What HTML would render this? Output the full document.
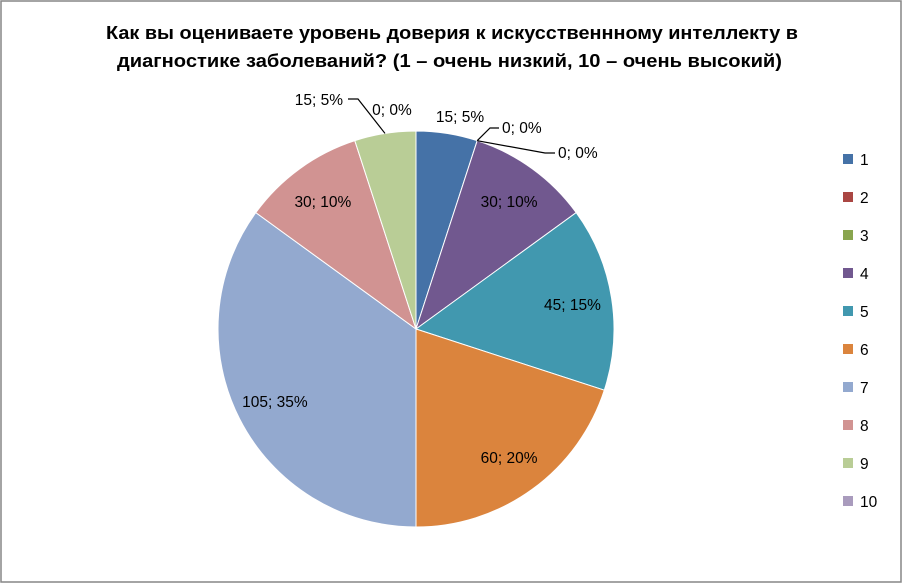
<!DOCTYPE html>
<html><head><meta charset="utf-8"><style>
body{margin:0;background:#fff;}
#wrap{position:relative;width:902px;height:583px;font-family:"Liberation Sans",sans-serif;}
svg text{font-family:"Liberation Sans","DejaVu Sans",sans-serif;}
</style></head><body>
<div id="wrap">
<svg id="chart" width="902" height="583">
<rect x="1" y="1" width="900" height="581" fill="#fff" stroke="#868686" stroke-width="1.5"/>
<text x="106" y="39" textLength="692" lengthAdjust="spacingAndGlyphs" font-size="18.5" font-weight="bold" fill="#000">Как вы оцениваете уровень доверия к искусственнному интеллекту в</text>
<text x="117" y="67" textLength="665" lengthAdjust="spacingAndGlyphs" font-size="18.5" font-weight="bold" fill="#000">диагностике заболеваний? (1 – очень низкий, 10 – очень высокий)</text>
<g id="slices"></g>
<g id="labels"></g>
<g id="legend"></g>
</svg>
</div>
<script>
const categories=["1","2","3","4","5","6","7","8","9","10"];
const values=[15,0,0,30,45,60,105,30,15,0];
const percents=["5%","0%","0%","10%","15%","20%","35%","10%","5%","0%"];
const colors=["#4572A7","#AA4643","#89A54E","#71588F","#4198AF","#DB843D","#93A9CF","#D19392","#B9CD96","#A99BBD"];
const NS="http://www.w3.org/2000/svg";
const cx=416,cy=329,r=198;
const total=values.reduce((a,b)=>a+b,0);
function pt(a,rr){return [cx+rr*Math.sin(a),cy-rr*Math.cos(a)];}
const sg=document.getElementById('slices'),lg=document.getElementById('labels'),gg=document.getElementById('legend');
let ang=0;
const labelOverride={0:[460,122,'middle'],1:[502,133,'start'],2:[558,158,'start'],9:[392,115,'middle'],8:[343,105,'end']};
values.forEach((v,i)=>{
  const a0=ang,a1=ang+v/total*2*Math.PI;ang=a1;
  if(v>0){
    const p0=pt(a0,r),p1=pt(a1,r);
    const large=(a1-a0)>Math.PI?1:0;
    const p=document.createElementNS(NS,'path');
    p.setAttribute('d',`M${cx},${cy}L${p0[0]},${p0[1]}A${r},${r} 0 ${large} 1 ${p1[0]},${p1[1]}Z`);
    p.setAttribute('fill',colors[i]);p.setAttribute('stroke','#fff');p.setAttribute('stroke-width','1');
    
    
    sg.appendChild(p);
  }
  const mid=(a0+a1)/2;
  let x,y,anchor='middle';
  if(labelOverride[i]){[x,y,anchor]=labelOverride[i];}
  else{const q=pt(mid,r*0.8);x=q[0];y=q[1]+6;}
  let pts=null;
  const e=pt(a0,r);
  if(i===1) pts=`${e[0]},${e[1]} ${x-12},${y-5} ${x-3},${y-5}`;
  else if(i===2) pts=`${e[0]},${e[1]} ${x-13},${y-5} ${x-3},${y-5}`;
  else if(i===8){const m=pt(mid,r);pts=`${m[0]},${m[1]} ${x+15},${y-6} ${x+5},${y-6}`;}
  if(pts){
    const l=document.createElementNS(NS,'polyline');
    l.setAttribute('points',pts);l.setAttribute('fill','none');l.setAttribute('stroke','#000');l.setAttribute('stroke-width','1.2');
    
    
    lg.appendChild(l);
  }
  const t=document.createElementNS(NS,'text');
  t.setAttribute('x',x);t.setAttribute('y',y);t.setAttribute('text-anchor',anchor);t.setAttribute('font-size','15.5');
  t.textContent=values[i]+'; '+percents[i];
  
  
  lg.appendChild(t);
  const ly=159+i*38;
  const sq=document.createElementNS(NS,'rect');
  sq.setAttribute('x',843);sq.setAttribute('y',ly-5);sq.setAttribute('width',10);sq.setAttribute('height',10);sq.setAttribute('fill',colors[i]);
  
  
  gg.appendChild(sq);
  const lt=document.createElementNS(NS,'text');
  lt.setAttribute('x',860);lt.setAttribute('y',ly+6);lt.setAttribute('font-size','15.5');lt.textContent=categories[i];
  
  
  gg.appendChild(lt);
});
</script>
</body></html>
